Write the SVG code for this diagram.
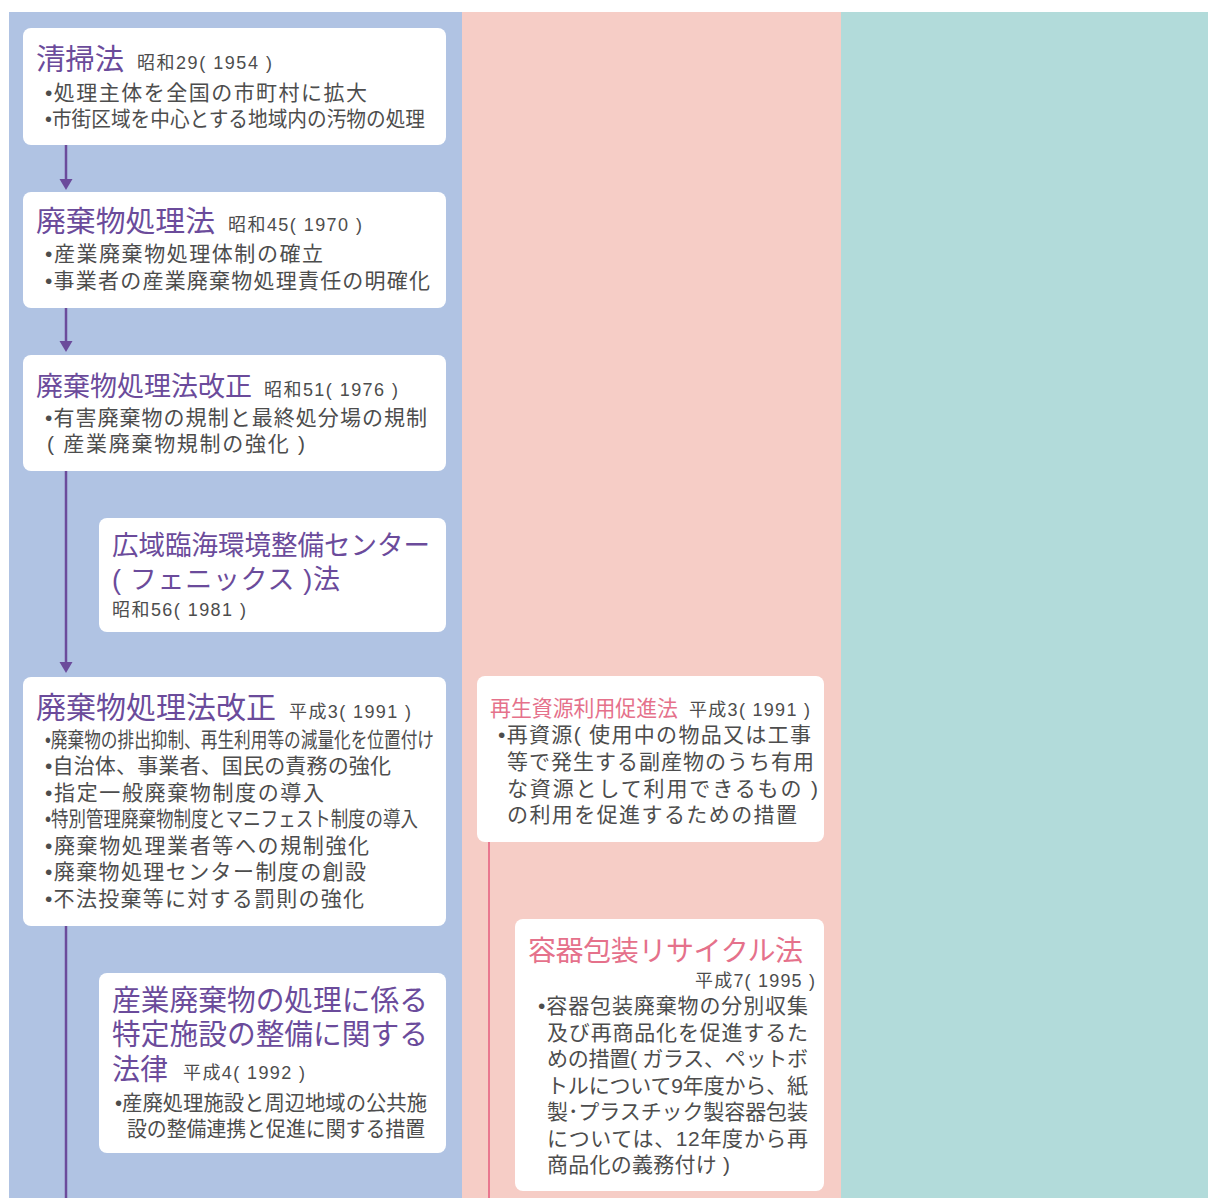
<svg xmlns="http://www.w3.org/2000/svg" width="1208" height="1198" viewBox="0 0 1208 1198">
<defs>
<style>
text{font-family:"Liberation Sans","Noto Sans CJK JP",sans-serif;}
.box{fill:#ffffff;}
.ttl{fill:#6b4b9b;}
.pt{fill:#e5718b;}
.d{fill:#4d4d4d;font-size:18px;}
.b{fill:#4d4d4d;font-size:21px;}
.conn{stroke:#6b4b9b;stroke-width:2.5;fill:none;}
.pconn{stroke:#e9778f;stroke-width:2;fill:none;}
</style>
<marker id="ah" markerUnits="userSpaceOnUse" markerWidth="12" markerHeight="14" refX="5" refY="6.5" orient="auto" viewBox="0 0 12 13">
<path d="M0,0 L11,6.5 L0,13 Z" fill="#6b4b9b"/>
</marker>
</defs>
<rect x="0" y="0" width="1208" height="1198" fill="#ffffff"/>
<rect x="9" y="12" width="454" height="1186" fill="#b0c3e3"/>
<rect x="462" y="12" width="379" height="1186" fill="#f6cdc6"/>
<rect x="841" y="12" width="367" height="1186" fill="#b2dbda"/>

<g id="connectors">
<line class="conn" x1="66" y1="145" x2="66" y2="184" marker-end="url(#ah)"/>
<line class="conn" x1="66" y1="308" x2="66" y2="346" marker-end="url(#ah)"/>
<line class="conn" x1="66" y1="471" x2="66" y2="667" marker-end="url(#ah)"/>
<line class="conn" x1="66" y1="926" x2="66" y2="1198"/>
<line class="pconn" x1="489" y1="842" x2="489" y2="1198"/>
</g>

<g id="n1">
<rect class="box" x="23" y="28" width="423" height="117" rx="8"/>
<text class="ttl" x="36" y="70" font-size="29" textLength="88" lengthAdjust="spacingAndGlyphs">清掃法</text>
<text class="d" x="137" y="69" textLength="135" lengthAdjust="spacing">昭和29( 1954 )</text>
<text class="b" x="45" y="100" textLength="322" lengthAdjust="spacing">•処理主体を全国の市町村に拡大</text>
<text class="b" x="45" y="126" textLength="380" lengthAdjust="spacingAndGlyphs">•市街区域を中心とする地域内の汚物の処理</text>
</g>

<g id="n2">
<rect class="box" x="23" y="192" width="423" height="116" rx="8"/>
<text class="ttl" x="36" y="232" font-size="29" textLength="179" lengthAdjust="spacingAndGlyphs">廃棄物処理法</text>
<text class="d" x="228" y="231" textLength="134" lengthAdjust="spacing">昭和45( 1970 )</text>
<text class="b" x="45" y="261" textLength="278" lengthAdjust="spacing">•産業廃棄物処理体制の確立</text>
<text class="b" x="45" y="288" textLength="385" lengthAdjust="spacing">•事業者の産業廃棄物処理責任の明確化</text>
</g>

<g id="n3">
<rect class="box" x="23" y="355" width="423" height="116" rx="8"/>
<text class="ttl" x="36" y="396" font-size="27" textLength="216" lengthAdjust="spacingAndGlyphs">廃棄物処理法改正</text>
<text class="d" x="264" y="396" textLength="134" lengthAdjust="spacing">昭和51( 1976 )</text>
<text class="b" x="45" y="425" textLength="382" lengthAdjust="spacing">•有害廃棄物の規制と最終処分場の規制</text>
<text class="b" x="47" y="451" textLength="258" lengthAdjust="spacing">( 産業廃棄物規制の強化 )</text>
</g>

<g id="n4">
<rect class="box" x="99" y="518" width="347" height="114" rx="8"/>
<text class="ttl" x="112" y="555" font-size="27" textLength="318" lengthAdjust="spacingAndGlyphs">広域臨海環境整備センター</text>
<text class="ttl" x="112" y="589" font-size="27" textLength="228" lengthAdjust="spacing">( フェニックス )法</text>
<text class="d" x="112" y="616" textLength="134" lengthAdjust="spacing">昭和56( 1981 )</text>
</g>

<g id="n5">
<rect class="box" x="23" y="677" width="423" height="249" rx="8"/>
<text class="ttl" x="36" y="718" font-size="30" textLength="240" lengthAdjust="spacingAndGlyphs">廃棄物処理法改正</text>
<text class="d" x="289" y="718" textLength="122" lengthAdjust="spacing">平成3( 1991 )</text>
<text class="b" x="45" y="747" font-size="19" textLength="389" lengthAdjust="spacingAndGlyphs">•廃棄物の排出抑制、再生利用等の減量化を位置付け</text>
<text class="b" x="45" y="773" textLength="346" lengthAdjust="spacing">•自治体、事業者、国民の責務の強化</text>
<text class="b" x="45" y="800" textLength="279" lengthAdjust="spacing">•指定一般廃棄物制度の導入</text>
<text class="b" x="45" y="826" font-size="19" textLength="373" lengthAdjust="spacingAndGlyphs">•特別管理廃棄物制度とマニフェスト制度の導入</text>
<text class="b" x="45" y="853" textLength="324" lengthAdjust="spacing">•廃棄物処理業者等への規制強化</text>
<text class="b" x="45" y="879" textLength="321" lengthAdjust="spacing">•廃棄物処理センター制度の創設</text>
<text class="b" x="45" y="906" textLength="319" lengthAdjust="spacing">•不法投棄等に対する罰則の強化</text>
</g>

<g id="n6">
<rect class="box" x="99" y="973" width="347" height="180" rx="8"/>
<text class="ttl" x="112" y="1011" font-size="29" textLength="316" lengthAdjust="spacingAndGlyphs">産業廃棄物の処理に係る</text>
<text class="ttl" x="112" y="1045" font-size="29" textLength="316" lengthAdjust="spacingAndGlyphs">特定施設の整備に関する</text>
<text class="ttl" x="112" y="1080" font-size="29" textLength="56" lengthAdjust="spacingAndGlyphs">法律</text>
<text class="d" x="183" y="1079" textLength="122" lengthAdjust="spacing">平成4( 1992 )</text>
<text class="b" x="115" y="1110" textLength="312" lengthAdjust="spacingAndGlyphs">•産廃処理施設と周辺地域の公共施</text>
<text class="b" x="127" y="1136" textLength="298" lengthAdjust="spacingAndGlyphs">設の整備連携と促進に関する措置</text>
</g>

<g id="p1">
<rect class="box" x="477" y="676" width="347" height="166" rx="8"/>
<text class="pt" x="490" y="716" font-size="21.5" textLength="188" lengthAdjust="spacingAndGlyphs">再生資源利用促進法</text>
<text class="d" x="689" y="716" textLength="121" lengthAdjust="spacing">平成3( 1991 )</text>
<text class="b" x="498" y="742" textLength="313" lengthAdjust="spacing">•再資源( 使用中の物品又は工事</text>
<text class="b" x="507" y="769" textLength="307" lengthAdjust="spacing">等で発生する副産物のうち有用</text>
<text class="b" x="507" y="796" textLength="311" lengthAdjust="spacing">な資源として利用できるもの )</text>
<text class="b" x="507" y="822" textLength="290" lengthAdjust="spacing">の利用を促進するための措置</text>
</g>

<g id="p2">
<rect class="box" x="515" y="919" width="309" height="272" rx="8"/>
<text class="pt" x="528" y="961" font-size="28" textLength="275" lengthAdjust="spacing">容器包装リサイクル法</text>
<text class="d" x="695" y="987" textLength="120" lengthAdjust="spacing">平成7( 1995 )</text>
<text class="b" x="538" y="1013" textLength="270" lengthAdjust="spacing">•容器包装廃棄物の分別収集</text>
<text class="b" x="547" y="1040" textLength="261" lengthAdjust="spacing">及び再商品化を促進するた</text>
<text class="b" x="547" y="1066" textLength="261" lengthAdjust="spacing">めの措置( ガラス、ペットボ</text>
<text class="b" x="547" y="1093" textLength="261" lengthAdjust="spacing">トルについて9年度から、紙</text>
<text class="b" x="547" y="1119" textLength="261" lengthAdjust="spacing">製･プラスチック製容器包装</text>
<text class="b" x="547" y="1146" textLength="261" lengthAdjust="spacing">については、12年度から再</text>
<text class="b" x="547" y="1172" textLength="183" lengthAdjust="spacing">商品化の義務付け )</text>
</g>
</svg>
